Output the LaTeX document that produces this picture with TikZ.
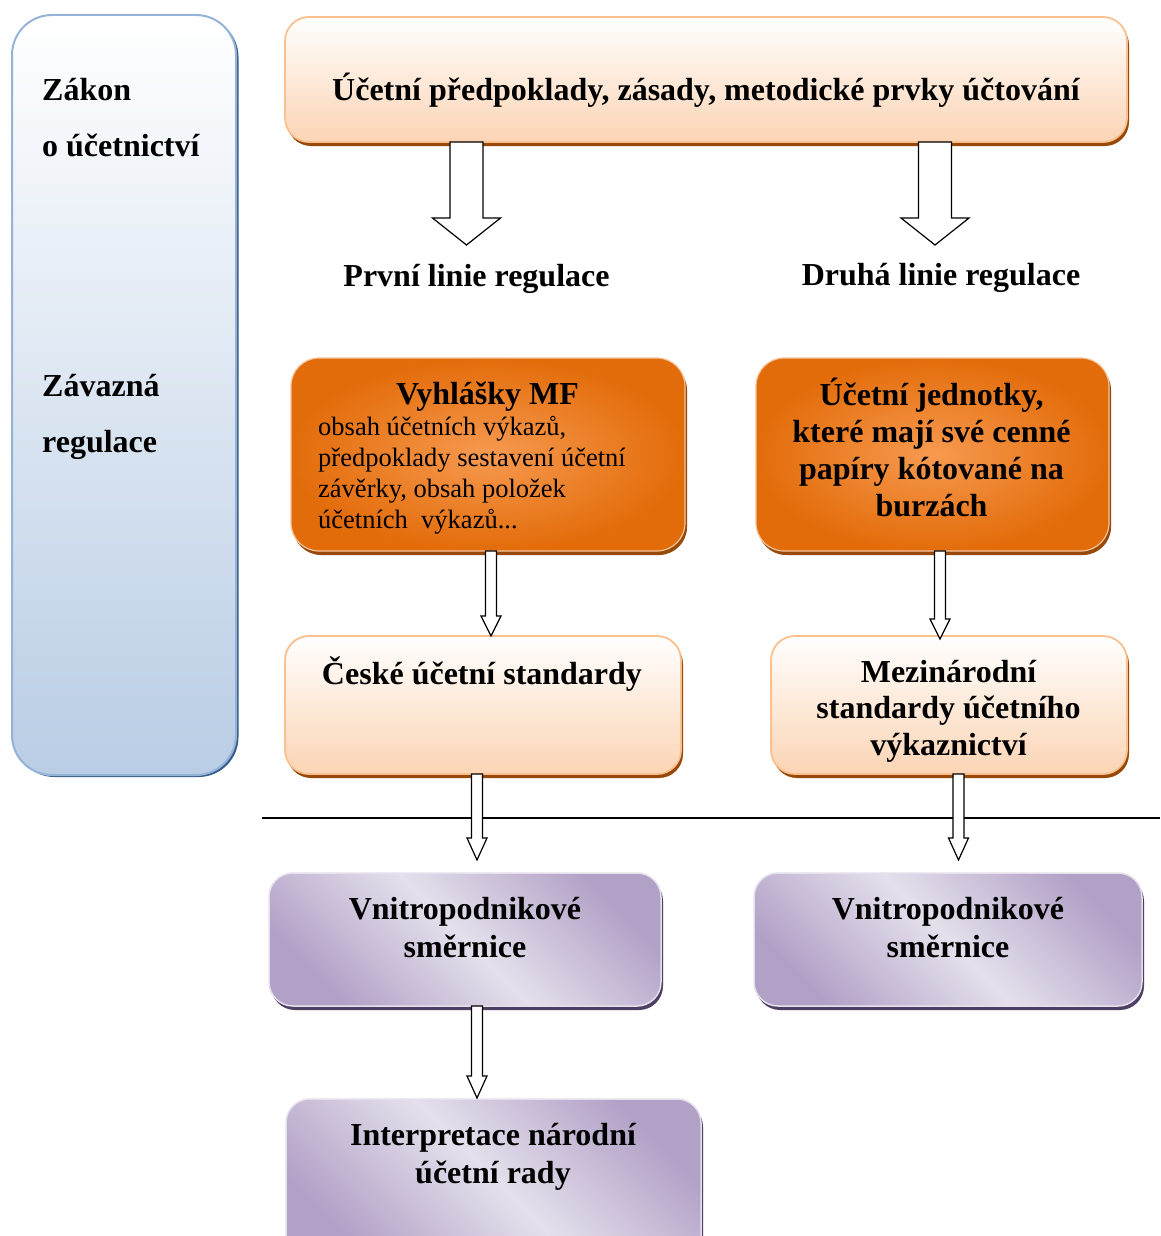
\documentclass[tikz,border=0pt]{standalone}
\usepackage{fontspec}
\setmainfont{Liberation Serif}
\usetikzlibrary{shadows,calc}
\definecolor{peach}{HTML}{FBD4B4}
\definecolor{peachborder}{HTML}{FAC090}
\definecolor{brownshadow}{HTML}{984807}
\definecolor{orangeout}{HTML}{E36C0A}
\definecolor{orangein}{HTML}{F79A50}
\definecolor{lblue}{HTML}{B9CDE5}
\definecolor{blueborder}{HTML}{95B3D7}
\definecolor{blueshadow}{HTML}{385D8A}
\definecolor{purdark}{HTML}{B2A1C7}
\definecolor{purlight}{HTML}{E5E0EC}
\definecolor{purshadow}{HTML}{4F3F63}
\tikzset{
  boxbase/.style={rectangle, inner sep=0pt, outer sep=0pt},
  leftbox/.style={boxbase, rounded corners=40pt, top color=white, bottom color=lblue,
    draw=blueborder, line width=2pt,
    drop shadow={shadow xshift=2.5pt, shadow yshift=-2pt, fill=blueshadow, opacity=1}},
  peachbox/.style={boxbase, rounded corners=24pt, top color=white, bottom color=peach,
    draw=peachborder, line width=1.8pt,
    drop shadow={shadow xshift=2pt, shadow yshift=-4pt, fill=brownshadow, opacity=1}},
  orangebox/.style={boxbase, rounded corners=28pt, inner color=orangein, outer color=orangeout,
    draw=orangeout!40!white, line width=1.2pt,
    drop shadow={shadow xshift=2pt, shadow yshift=-4pt, fill=brownshadow, opacity=1}},
  purplebox/.style={boxbase, rounded corners=24pt, top color=purdark, bottom color=purdark,
    middle color=purlight, shading angle=-45,
    draw=purlight, line width=1.5pt,
    drop shadow={shadow xshift=2pt, shadow yshift=-4pt, fill=purshadow, opacity=1}},
  bt/.style={font=\fontsize{32}{37}\selectfont\bfseries, align=center, anchor=base, inner sep=0pt},
  rt/.style={font=\fontsize{26.5}{30.7}\selectfont, align=left, anchor=base west, inner sep=0pt},
  arrowline/.style={draw=black, fill=white, line width=1.2pt, line join=miter},
}
\newcommand\mybox[6]{\node[#6, minimum width={#4-#2}, minimum height={#5-#3}] (#1) at ({(#2+#4)/2},{(#3+#5)/2}) {};}
% #1 start point, #2 tip coordinate, #3 shaft half width, #4 head half width, #5 head length
\newcommand\blockarrow[5]{%
  \draw[arrowline] let \p1=(#2), \p2=(#1 -| #2) in
    (\x1-#3pt,\y2) -- (\x1-#3pt,\y1+#5pt) -- (\x1-#4pt,\y1+#5pt) -- (\x1,\y1)
    -- (\x1+#4pt,\y1+#5pt) -- (\x1+#3pt,\y1+#5pt) -- (\x1+#3pt,\y2) -- cycle;}
\begin{document}
\begin{tikzpicture}[x=1pt,y=-1pt]
\useasboundingbox[fill=white] (0,0) rectangle (1160,1236);

% boxes
\mybox{L}{12}{15}{236}{775}{leftbox}
\mybox{T}{285}{17}{1127}{142}{peachbox}
\mybox{O1}{291}{358}{685}{551}{orangebox}
\mybox{O2}{756}{358}{1109}{551}{orangebox}
\mybox{P3}{285}{636}{681}{774}{peachbox}
\mybox{P4}{771}{636}{1127}{774}{peachbox}
\mybox{V5}{269}{873}{661}{1006}{purplebox}
\mybox{V6}{754}{873}{1142}{1006}{purplebox}
\mybox{V7}{286}{1099}{701}{1260}{purplebox}

% texts (multi-line nodes: base anchor = last line)
\node[bt, align=left, anchor=base west, font=\fontsize{32}{56}\selectfont\bfseries] (zak) at (42,157) {Zákon\\o účetnictví};
\node[bt, align=left, anchor=base west, font=\fontsize{32}{56}\selectfont\bfseries] (zav) at (42,452) {Závazná\\regulace};
\node[bt] (tt) at (706,101) {Účetní předpoklady, zásady, metodické prvky účtování};
\node[bt] (l1) at (476.5,286) {První linie regulace};
\node[bt] (l2) at (941,285) {Druhá linie regulace};
\node[bt] (o1h) at (487.5,404) {Vyhlášky MF};
\node[rt] (o1t) at (318,528) {obsah účetních výkazů,\\předpoklady sestavení účetní\\závěrky, obsah položek\\účetních\ \ výkazů...};
\node[bt] (o2t) at (931.5,516) {Účetní jednotky,\\které mají své cenné\\papíry kótované na\\burzách};
\node[bt] (p3t) at (482,684) {České účetní standardy};
\node[bt, font=\fontsize{32}{36.5}\selectfont\bfseries] (p4t) at (948.5,755) {Mezinárodní\\standardy účetního\\výkaznictví};
\node[bt, font=\fontsize{32}{38}\selectfont\bfseries] (v5t) at (465,957) {Vnitropodnikové\\směrnice};
\node[bt, font=\fontsize{32}{38}\selectfont\bfseries] (v6t) at (948,957) {Vnitropodnikové\\směrnice};
\node[bt, font=\fontsize{32}{38}\selectfont\bfseries] (v7t) at (493,1183) {Interpretace národní\\účetní rady};

% separator line
\draw[line width=1.3pt] (262,818) -- (1160,818);

% arrow tips
\coordinate (t1) at (466.5,245);
\coordinate (t2) at (935,245);
\coordinate (t3) at (491,636);
\coordinate (t4) at (940,639);
\coordinate (t5) at (477,860);
\coordinate (t6) at (958.5,860);
\coordinate (t7) at (477,1098);

\blockarrow{T.south}{t1}{16.5}{34}{27}
\blockarrow{T.south}{t2}{16.5}{34}{27}
\blockarrow{O1.south}{t3}{5.5}{10}{20}
\blockarrow{O2.south}{t4}{5.5}{10}{20}
\blockarrow{P3.south}{t5}{5.5}{10}{22}
\blockarrow{P4.south}{t6}{5.5}{10}{22}
\blockarrow{V5.south}{t7}{5.5}{10}{22}
\end{tikzpicture}
\end{document}
